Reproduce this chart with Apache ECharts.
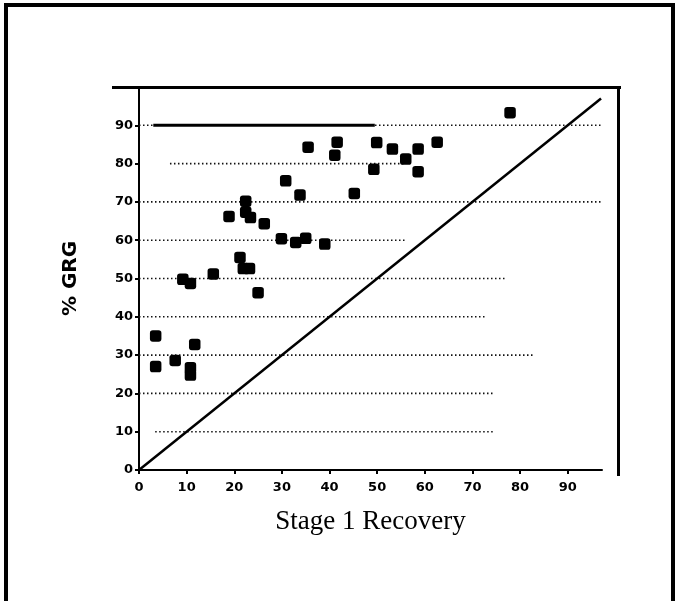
<!DOCTYPE html>
<html>
<head>
<meta charset="utf-8">
<style>
    html, body { margin: 0; padding: 0; background: #fff; }
    #chart { width: 680px; height: 601px; }
</style>
<script src="https://cdn.jsdelivr.net/npm/echarts@6/dist/echarts.min.js"></script>
</head>
<body>
<div id="chart"></div>
<script>
// stage 1 recovery (x) vs % GRG (y)
const recovery = [3.5, 3.5, 7.6, 10.8, 10.8, 11.7, 9.2, 10.8, 15.6, 21.2, 21.9, 23.2, 25.0,
    18.9, 22.4, 22.4, 23.4, 26.3, 30.8, 29.9, 32.9, 35.0, 33.8, 35.5, 39.0, 41.6, 41.1,
    45.2, 49.9, 49.3, 53.2, 56.0, 58.6, 58.6, 62.6, 77.9];
const grg = [35.0, 27.0, 28.6, 26.7, 24.8, 32.8, 49.8, 48.7, 51.2, 55.5, 52.6, 52.6, 46.3,
    66.2, 70.2, 67.3, 65.9, 64.3, 75.5, 60.4, 59.4, 60.5, 71.8, 84.3, 59.0, 85.6, 82.2,
    72.2, 85.5, 78.5, 83.8, 81.2, 83.8, 77.9, 85.6, 93.3];

const xTicks = [0, 10, 20, 30, 40, 50, 60, 70, 80, 90];
const yTicks = [0, 10, 20, 30, 40, 50, 60, 70, 80, 90];

// dotted reference rows and how far each one runs
const gridLevels = [10, 20, 30, 40, 50, 60, 70, 80, 90];
const gridFrom = [3.4, 0, 0, 0, 0, 0, 0, 6.5, 0];
const gridTo = [74.5, 74.5, 83, 73, 77, 56, 97, 56, 97];

// 1:1 line and the solid segment at 90
const diagonal = [0, 97];
const topBand = { level: 90, from: 3, to: 49.5 };

const chart = echarts.init(document.getElementById("chart"));

const series = [];
gridLevels.forEach((lv, i) => {
    series.push({
        type: "line",
        data: [[gridFrom[i], lv], [gridTo[i], lv]],
        symbol: "none",
        silent: true,
        lineStyle: { color: "#111", width: 1.6, type: [1.5, 2.5] },
        z: 1
    });
});
series.push({
    type: "line",
    data: [[topBand.from, topBand.level], [topBand.to, topBand.level]],
    symbol: "none",
    lineStyle: { color: "#000", width: 3 },
    z: 2
});
series.push({
    type: "line",
    data: diagonal.map(v => [v, v]),
    symbol: "none",
    lineStyle: { color: "#000", width: 2.5 },
    z: 3
});
series.push({
    type: "scatter",
    data: recovery.map((x, i) => [x, grg[i]]),
    symbol: "roundRect",
    symbolSize: 11.5,
    itemStyle: { color: "#000", opacity: 1 },
    z: 4
});

const labelStyle = {
    color: "#000",
    fontFamily: "DejaVu Sans",
    fontWeight: "bold",
    fontSize: 13
};

const option = {
    animation: false,
    backgroundColor: "#fff",
    grid: { left: 139, right: 78, top: 87, bottom: 131, containLabel: false },
    xAxis: {
        type: "value",
        min: 0,
        max: 97.2,
        interval: 10,
        name: "Stage 1 Recovery",
        nameLocation: "middle",
        nameGap: 38,
        nameTextStyle: { fontFamily: "Liberation Serif", fontSize: 27, color: "#000" },
        axisLine: { lineStyle: { color: "#000", width: 2 } },
        axisTick: { show: true, length: 4, lineStyle: { color: "#000", width: 2 } },
        axisLabel: Object.assign({
            margin: 11,
            showMaxLabel: false,
            formatter: v => xTicks.includes(v) ? String(v) : ""
        }, labelStyle),
        splitLine: { show: false }
    },
    yAxis: {
        type: "value",
        min: 0,
        max: 100,
        interval: 10,
        name: "% GRG",
        nameLocation: "middle",
        nameGap: 58,
        nameRotate: 90,
        nameTextStyle: { fontFamily: "DejaVu Sans", fontWeight: "bold", fontSize: 20, color: "#000" },
        axisLine: { show: true, lineStyle: { color: "#000", width: 2 } },
        axisTick: { show: true, length: 4, lineStyle: { color: "#000", width: 2 } },
        axisLabel: Object.assign({
            margin: 6,
            showMaxLabel: false,
            formatter: v => yTicks.includes(v) ? String(v) : ""
        }, labelStyle),
        splitLine: { show: false }
    },
    graphic: [
        // outer frame
        { type: "rect", shape: { x: 6, y: 5, width: 667, height: 610 },
          style: { fill: "none", stroke: "#000", lineWidth: 4 }, silent: true },
        // box line on top and right of the plot
        { type: "rect", shape: { x: 112, y: 86, width: 509, height: 3 },
          style: { fill: "#000" }, silent: true },
        { type: "rect", shape: { x: 617, y: 86, width: 3, height: 390 },
          style: { fill: "#000" }, silent: true }
    ],
    series: series
};

chart.setOption(option);
</script>
</body>
</html>
